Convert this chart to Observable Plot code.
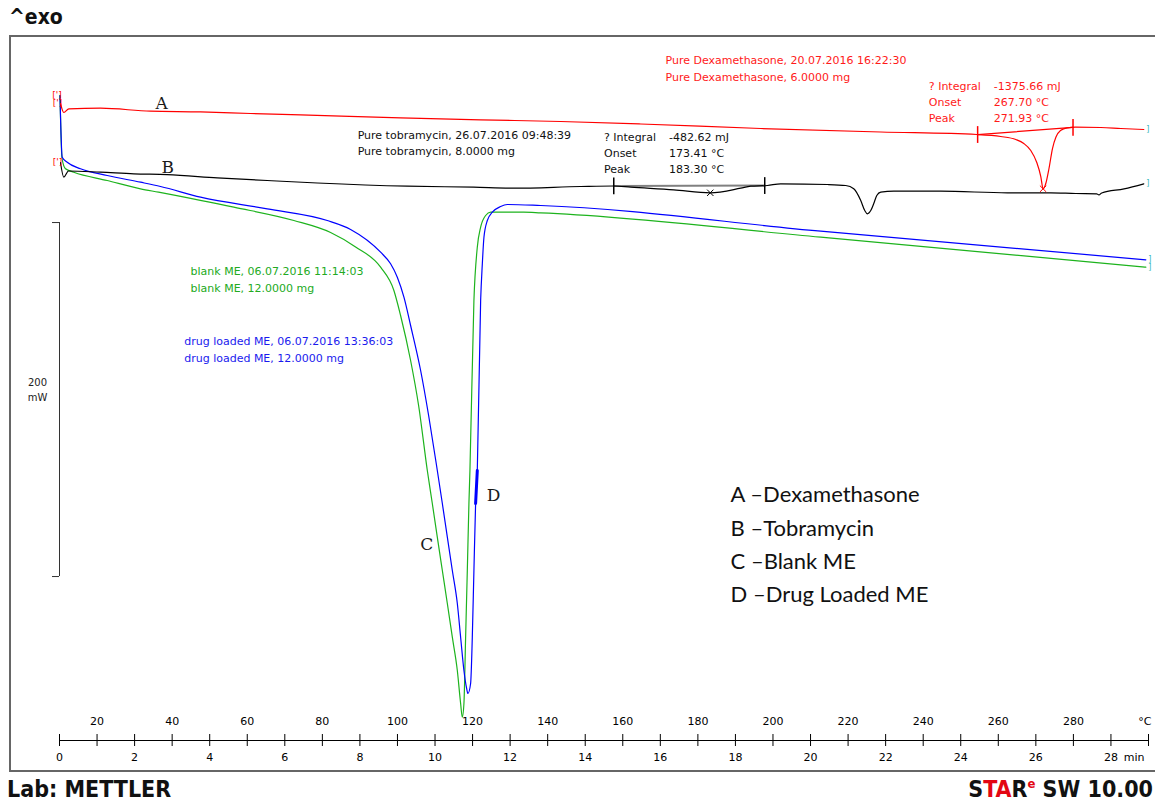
<!DOCTYPE html>
<html>
<head>
<meta charset="utf-8">
<script src="https://cdn.jsdelivr.net/npm/d3@7"></script>
<script src="https://cdn.jsdelivr.net/npm/@observablehq/plot@0.6"></script>
<style>
  html, body { margin: 0; padding: 0; background: #fff; }
  #page { position: relative; width: 1155px; height: 803px; overflow: hidden; font-family: "DejaVu Sans", sans-serif; }
  #exo { position: absolute; left: 9px; top: 5px; font-family: "DejaVu Sans Condensed", "DejaVu Sans"; font-stretch: condensed; font-weight: bold; font-size: 21px; color: #111; }
  #box { position: absolute; left: 9px; top: 35px; width: 1152px; height: 737px; box-sizing: border-box; border: 2px solid #666; }
  #chart { position: absolute; left: 0; top: 36px; }
  .foot { position: absolute; top: 776px; font-family: "DejaVu Sans Condensed", "DejaVu Sans"; font-stretch: condensed; font-weight: bold; font-size: 23px; color: #111; white-space: nowrap; }
  #lab { left: 7px; }
  #ver { right: 2px; }
  #ver .r { color: #e30613; }
  #ver sup { font-size: 13px; vertical-align: 9px; line-height: 0; }
</style>
</head>
<body>
<div id="page">
  <div id="exo">^exo</div>
  <div id="chart"></div>
  <div id="box"></div>
  <div class="foot" id="lab">Lab: METTLER</div>
  <div class="foot" id="ver">S<span class="r">TA</span>R<sup class="r">e</sup> SW 10.00</div>
</div>
<script>
// Heating programme: 10 °C at 0 min, heated at 10 K/min up to 300 °C
const startTemp = 10;
const endTemp = 300;
const heatingRate = 10;

// DSC heat-flow curves, [reference temperature in °C, heat flow in mW]
const dexamethasone = [
  [10.27, 3.95], [11.15, -1.13], [12.48, 0.96], [20.92, 1.30], [34.24, -0.40], [47.56, -0.79],
  [60.88, -1.69], [74.20, -2.49], [100.83, -4.12], [122.15, -5.25], [143.46, -6.21], [164.77, -7.63],
  [196.73, -10.17], [228.70, -12.15], [254.27, -13.56], [260.66, -14.69], [264.66, -16.38],
  [266.79, -18.64], [268.65, -22.60], [270.25, -29.38], [271.32, -37.29], [271.93, -44.24],
  [272.57, -41.81], [273.50, -32.77], [274.43, -21.47], [275.36, -14.97], [276.56, -11.30],
  [278.34, -9.77], [280.55, -9.44], [287.30, -9.60], [292.63, -10.17], [298.75, -10.73]
];
const tobramycin = [
  [10.27, -29.38], [11.15, -37.68], [12.40, -34.18], [20.92, -34.86], [29.79, -35.76], [38.69, -36.27],
  [52.01, -38.02], [65.33, -39.55], [78.65, -40.96], [102.62, -42.77], [120.28, -43.33], [130.94, -43.90],
  [148.79, -42.94], [157.58, -42.66], [162.11, -43.33], [173.56, -44.80], [183.30, -46.50], [191.40, -43.90],
  [194.06, -42.77], [198.51, -42.37], [202.05, -41.41], [214.50, -41.81], [219.38, -42.37], [221.51, -44.24],
  [223.37, -50.85], [224.44, -56.50], [225.16, -58.36], [226.04, -56.50], [226.84, -52.54], [227.64, -48.02],
  [228.70, -46.16], [232.17, -45.59], [244.69, -45.59], [262.45, -46.50], [273.98, -46.50], [280.60, -46.90],
  [286.20, -47.06], [286.80, -47.70], [287.55, -46.60], [293.49, -44.24], [298.76, -41.41]
];
const blankME = [
  [10.13, 8.47], [10.67, -27.12], [11.60, -32.94], [13.81, -34.86], [22.71, -39.55], [31.58, -44.24],
  [36.37, -46.16], [56.43, -54.63], [72.41, -62.15], [82.19, -68.93], [88.85, -77.10], [95.51, -88.53],
  [99.05, -101.69], [100.83, -115.82], [103.50, -141.24], [105.63, -166.67], [107.95, -203.39],
  [109.28, -222.03], [110.61, -241.07], [111.95, -259.89], [113.28, -278.53], [114.61, -297.57],
  [115.94, -316.38], [116.82, -335.03], [117.27, -342.77], [117.70, -335.03], [118.15, -297.57],
  [118.60, -259.89], [119.03, -222.03], [119.30, -203.39], [120.36, -107.34], [121.26, -77.23],
  [122.15, -65.93], [123.48, -59.32], [124.81, -57.46], [133.60, -57.46], [138.13, -57.80],
  [212.72, -71.58], [299.29, -88.53]
];
const drugLoadedME = [
  [10.13, 8.47], [10.72, -26.38], [12.05, -29.21], [15.59, -32.94], [22.71, -36.72], [31.58, -40.51],
  [36.90, -42.94], [47.56, -48.98], [65.33, -55.54], [81.31, -62.15], [87.52, -67.20], [95.51, -80.06],
  [98.17, -86.61], [99.96, -94.18], [101.72, -105.48], [103.50, -121.47], [106.17, -146.89],
  [108.30, -172.32], [110.61, -203.39], [111.95, -222.03], [113.28, -241.07], [114.61, -259.89],
  [115.94, -278.53], [116.82, -297.57], [117.70, -316.38], [118.42, -326.55], [118.76, -329.38],
  [119.48, -323.73], [119.93, -297.57], [120.36, -259.89], [120.81, -222.03], [121.26, -203.39],
  [122.15, -107.34], [122.60, -86.61], [123.03, -71.58], [123.93, -62.15], [125.26, -57.46],
  [127.47, -54.24], [129.26, -53.11], [138.13, -53.67], [212.72, -68.19], [299.29, -84.35]
];

// Integration limits (°C) of the evaluated melting peaks
const tobramycinLimits = [157.6, 197.8];
const dexamethasoneLimits = [254.5, 279.9];

// Heat-flow scale bar: top of the bar and its span, mW
const scaleBarTop = -63.3;
const scaleBarSpan = 200;

// Axis labels
const minuteTicks = [0,1,2,3,4,5,6,7,8,9,10,11,12,13,14,15,16,17,18,19,20,21,22,23,24,25,26,27,28,29];
const minuteLabels = [0, 2, 4, 6, 8, 10, 12, 14, 16, 18, 20, 22, 24, 26, 28];
const tempLabels = [20, 40, 60, 80, 100, 120, 140, 160, 180, 200, 220, 240, 260, 280];

// Annotation texts
const dexInfo = ["Pure Dexamethasone, 20.07.2016 16:22:30", "Pure Dexamethasone, 6.0000 mg"];
const tobInfo = ["Pure tobramycin, 26.07.2016 09:48:39", "Pure tobramycin, 8.0000 mg"];
const blankInfo = ["blank ME, 06.07.2016 11:14:03", "blank ME, 12.0000 mg"];
const drugInfo = ["drug loaded ME, 06.07.2016 13:36:03", "drug loaded ME, 12.0000 mg"];
const resultNames = ["? Integral", "Onset", "Peak"];
const tobResults = ["-482.62 mJ", "173.41 °C", "183.30 °C"];
const dexResults = ["-1375.66 mJ", "267.70 °C", "271.93 °C"];
const legendLines = ["A \u2013Dexamethasone", "B \u2013Tobramycin", "C \u2013Blank ME", "D \u2013Drug Loaded ME"];
const curveLetters = ["A", "B", "C", "D"];

const RED = "#ff0000", BLUE = "#0000ff", GREEN = "#1db31d", CYAN = "#33b8b8";
const minToTemp = m => startTemp + heatingRate * m;

// Linear interpolation of a curve at temperature t
function heatFlowAt(curve, t) {
  const i = d3.bisector(d => d[0]).left(curve, t);
  if (i <= 0) return curve[0][1];
  if (i >= curve.length) return curve[curve.length - 1][1];
  const [t0, v0] = curve[i - 1], [t1, v1] = curve[i];
  return v0 + (v1 - v0) * (t - t0) / (t1 - t0);
}
const inRange = (curve, [a, b]) => curve.filter(d => d[0] >= a && d[0] <= b);
const peakOf = (curve, lim) => d3.least(inRange(curve, lim), d => d[1]);

const curves = [
  {data: blankME, stroke: GREEN},
  {data: drugLoadedME, stroke: BLUE},
  {data: tobramycin, stroke: "#000"},
  {data: dexamethasone, stroke: RED}
];

const txt = {fontFamily: "DejaVu Sans", fontSize: 11, textAnchor: "start", text: d => d};

const chart = Plot.plot({
  width: 1155,
  height: 736,
  marginLeft: 59,
  marginRight: 7,
  marginTop: 0,
  marginBottom: 32,
  x: {domain: [startTemp, endTemp], axis: null},
  y: {domain: [-355.93, 41.81], axis: null},
  style: {background: "transparent", overflow: "visible", fontFamily: "DejaVu Sans"},
  marks: [
    // time / temperature axis
    Plot.frame({anchor: "bottom", stroke: "#000", strokeOpacity: 1}),
    Plot.tickX(minuteTicks, {x: minToTemp, insetTop: 698, insetBottom: -6, stroke: "#000"}),
    Plot.text(tempLabels, {x: d => d, frameAnchor: "bottom", dy: -16, text: d => String(d), fontSize: 11, fill: "#000"}),
    Plot.text(minuteLabels, {x: minToTemp, frameAnchor: "bottom", dy: 20, text: d => String(d), fontSize: 11, fill: "#000"}),
    Plot.text(["°C"], {x: () => endTemp, frameAnchor: "bottom", dy: -16, dx: 3, textAnchor: "end", text: d => d, fontSize: 11}),
    Plot.text(["min"], {x: () => endTemp, frameAnchor: "bottom", dy: 20, dx: -4, textAnchor: "end", text: d => d, fontSize: 11}),

    // 200 mW scale bar
    Plot.ruleX([startTemp], {x: d => d, y1: () => scaleBarTop, y2: () => scaleBarTop - scaleBarSpan, stroke: "#333"}),
    Plot.ruleY([scaleBarTop, scaleBarTop - scaleBarSpan], {y: d => d, x1: () => startTemp, x2: () => startTemp, insetLeft: -7, stroke: "#333"}),
    Plot.text([`${scaleBarSpan}\nmW`], {x: () => startTemp, y: () => scaleBarTop - scaleBarSpan / 2, dx: -22, dy: -11, text: d => d, fontSize: 10, lineHeight: 1.55, fill: "#222"}),

    // integration baselines
    Plot.line(tobramycinLimits.map(t => [t, heatFlowAt(tobramycin, t)]), {x: d => d[0], y: d => d[1], stroke: "#808080", strokeWidth: 2}),
    Plot.line(dexamethasoneLimits.map(t => [t, heatFlowAt(dexamethasone, t)]), {x: d => d[0], y: d => d[1], stroke: RED, strokeWidth: 1.2}),

    // thermograms
    ...curves.map(c => Plot.line(c.data, {x: d => d[0], y: d => d[1], stroke: c.stroke, strokeWidth: 1.2, curve: "monotone-x"})),

    // pointer on the drug loaded curve
    Plot.line(drugLoadedME.filter(d => d[0] > 120.5 && d[1] > -225 && d[1] < -200), {x: d => d[0], y: d => d[1], stroke: BLUE, strokeWidth: 3}),

    // integration limits and peak markers
    Plot.ruleX(tobramycinLimits, {x: d => d, y1: d => heatFlowAt(tobramycin, d) + 4.5, y2: d => heatFlowAt(tobramycin, d) - 5, stroke: "#000", strokeWidth: 1.5}),
    Plot.ruleX(dexamethasoneLimits, {x: d => d, y1: d => heatFlowAt(dexamethasone, d) + 4.5, y2: d => heatFlowAt(dexamethasone, d) - 5, stroke: RED, strokeWidth: 1.5}),
    Plot.dot([peakOf(tobramycin, tobramycinLimits)], {x: d => d[0], y: d => d[1], symbol: "times", r: 3, stroke: "#000", strokeWidth: 1}),
    Plot.dot([peakOf(dexamethasone, dexamethasoneLimits)], {x: d => d[0], y: d => d[1], symbol: "times", r: 3, stroke: RED, strokeWidth: 1}),

    // curve start / end brackets
    Plot.text([dexamethasone[0], tobramycin[0], blankME[0]], {x: d => d[0], y: d => d[1], text: () => "[']", dx: -3, fill: RED, fontSize: 9}),
    Plot.text(curves.map(c => c.data[c.data.length - 1]), {x: d => d[0], y: d => d[1], text: () => "]", dx: 4, fill: CYAN, fontSize: 8}),

    // curve letters
    Plot.text(curveLetters, {
      x: (d, i) => [37.2, 38.8, 107.8, 125.6][i],
      y: (d, i) => [3.95, -32.2, -245.2, -217.5][i],
      text: d => d, fontFamily: "DejaVu Serif", fontSize: 17, fill: "#1a1a1a"
    }),

    // sample information
    Plot.text([dexInfo.join("\n")], {...txt, x: () => 171.4, y: () => 24.6, lineHeight: 1.55, fill: "#ff1a1a"}),
    Plot.text([tobInfo.join("\n")], {...txt, x: () => 89.4, y: () => -17.7, lineHeight: 1.48, fill: "#111"}),
    Plot.text([blankInfo.join("\n")], {...txt, x: () => 44.9, y: () => -94.7, lineHeight: 1.55, fill: "#22aa22"}),
    Plot.text([drugInfo.join("\n")], {...txt, x: () => 43.2, y: () => -134.1, lineHeight: 1.52, fill: "#1a1aee"}),

    // peak evaluation results
    Plot.text([resultNames.join("\n")], {...txt, x: () => 155.0, y: () => -23.4, lineHeight: 1.45, fill: "#111"}),
    Plot.text([tobResults.join("\n")], {...txt, x: () => 172.3, y: () => -23.4, lineHeight: 1.45, fill: "#111"}),
    Plot.text([resultNames.join("\n")], {...txt, x: () => 241.5, y: () => 5.5, lineHeight: 1.47, fill: "#ff1a1a"}),
    Plot.text([dexResults.join("\n")], {...txt, x: () => 258.8, y: () => 5.5, lineHeight: 1.47, fill: "#ff1a1a"}),

    // key
    Plot.text([legendLines.join("\n")], {x: () => 188.7, y: () => -243.6, text: d => d, textAnchor: "start", fontFamily: "Lato", fontSize: 22, lineHeight: 1.51, fill: "#111"})
  ]
});

document.getElementById("chart").appendChild(chart);
</script>
</body>
</html>
